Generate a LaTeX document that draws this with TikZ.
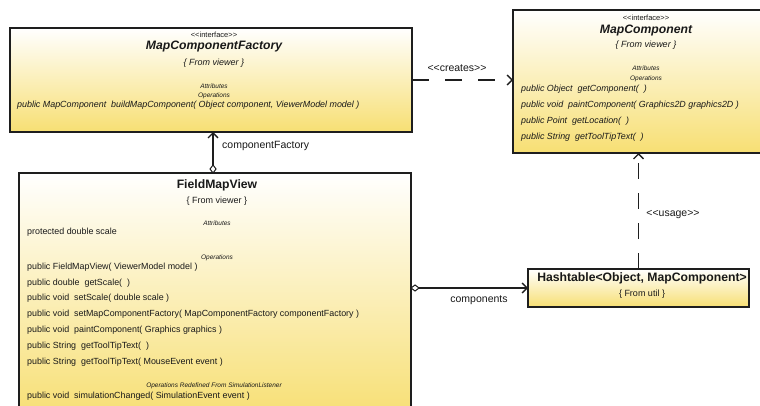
\documentclass[tikz,border=0pt]{standalone}
\usepackage{fontspec}
\setmainfont{Liberation Sans}
\usetikzlibrary{arrows.meta}
\definecolor{umlyellow}{RGB}{247,223,115}
\definecolor{umlline}{RGB}{30,30,30}
\definecolor{txt}{RGB}{25,25,25}
\newcommand{\ltlt}{{<}{<}}
\newcommand{\gtgt}{{>}{>}}
\tikzset{
  umlbox/.style={draw=umlline, line width=1.3pt, top color=white, bottom color=umlyellow,
    anchor=north west, inner sep=0pt, outer sep=0pt},
  mtext/.style={anchor=west, inner sep=0pt, text=txt, font=\fontsize{8.9}{10}\selectfont},
  itext/.style={anchor=west, inner sep=0pt, text=txt, font=\fontsize{8.9}{10}\selectfont\itshape},
  tiny/.style={inner sep=0pt, text=txt, font=\fontsize{6.5}{7}\selectfont\itshape},
  stereo/.style={inner sep=0pt, text=txt, font=\fontsize{7.5}{8}\selectfont},
  fromtxt/.style={inner sep=0pt, text=txt, font=\fontsize{9}{10}\selectfont\itshape},
  fromup/.style={inner sep=0pt, text=txt, font=\fontsize{9}{10}\selectfont},
  ititle/.style={inner sep=0pt, text=txt, font=\fontsize{12.2}{14}\selectfont\bfseries\itshape},
  btitle/.style={inner sep=0pt, text=txt, font=\fontsize{12.2}{14}\selectfont\bfseries},
  conn/.style={draw=umlline, line width=1.3pt},
  dep/.style={conn, dash pattern=on 17pt off 16pt},
  lbl/.style={inner sep=0pt, text=txt, font=\fontsize{10.5}{12}\selectfont},
  openarrow/.style={-{Straight Barb[length=5pt, width=10pt, line width=1.3pt]}},
}
\begin{document}
\begin{tikzpicture}[x=1pt, y=-1pt]
  \clip (0,0) rectangle (760,406);
  \fill[white] (0,0) rectangle (760,406);

  % MapComponentFactory
  \node[umlbox, minimum width=402pt, minimum height=104pt] (mcf) at (10,28) {};
  \node[stereo] (mcfs) at (214,35) {\ltlt interface\gtgt};
  \node[ititle] (mcft) at (214,47) {MapComponentFactory};
  \node[fromtxt] (mcff) at (214,63) {\{ From viewer \}};
  \node[tiny] (mcfa) at (214,86) {Attributes};
  \node[tiny] (mcfo) at (214,96) {Operations};
  \node[itext] (mcfm1) at (17,105) {public MapComponent\ \ buildMapComponent( Object component, ViewerModel model )};

  % MapComponent
  \node[umlbox, minimum width=266pt, minimum height=143pt] (mc) at (513,10) {};
  \node[stereo] (mcs) at (646,18) {\ltlt interface\gtgt};
  \node[ititle] (mct) at (646,31) {MapComponent};
  \node[fromtxt] (mcf2) at (646,45) {\{ From viewer \}};
  \node[tiny] (mca) at (646,68) {Attributes};
  \node[tiny] (mco) at (646,79) {Operations};
  \node[itext] (mcm1) at (521,89) {public Object\ \ getComponent(\ \ )};
  \node[itext] (mcm2) at (521,105) {public void\ \ paintComponent( Graphics2D graphics2D )};
  \node[itext] (mcm3) at (521,121) {public Point\ \ getLocation(\ \ )};
  \node[itext] (mcm4) at (521,137) {public String\ \ getToolTipText(\ \ )};

  % FieldMapView
  \node[umlbox, minimum width=392pt, minimum height=245pt] (fmv) at (19,173) {};
  \node[btitle] (fmvt) at (217,185) {FieldMapView};
  \node[fromup] (fmvf) at (217,201) {\{ From viewer \}};
  \node[tiny] (fmva) at (217,223) {Attributes};
  \node[mtext] (fmva1) at (27,232) {protected double scale};
  \node[tiny] (fmvo) at (217,258) {Operations};
  \node[mtext] (fmvm1) at (27,267) {public FieldMapView( ViewerModel model )};
  \node[mtext] (fmvm2) at (27,283) {public double\ \ getScale(\ \ )};
  \node[mtext] (fmvm3) at (27,298) {public void\ \ setScale( double scale )};
  \node[mtext] (fmvm4) at (27,314) {public void\ \ setMapComponentFactory( MapComponentFactory componentFactory )};
  \node[mtext] (fmvm5) at (27,330) {public void\ \ paintComponent( Graphics graphics )};
  \node[mtext] (fmvm6) at (27,346) {public String\ \ getToolTipText(\ \ )};
  \node[mtext] (fmvm7) at (27,362) {public String\ \ getToolTipText( MouseEvent event )};
  \node[tiny] (fmvr) at (214,386) {Operations Redefined From SimulationListener};
  \node[mtext] (fmvm8) at (27,396) {public void\ \ simulationChanged( SimulationEvent event )};

  % Hashtable
  \node[umlbox, minimum width=221pt, minimum height=38pt] (ht) at (528,269) {};
  \node[btitle] (htt) at (642,278) {Hashtable<Object, MapComponent>};
  \node[fromup] (htf) at (642,294) {\{ From util \}};

  % connectors
  \coordinate (cfx) at (213,0);
  \draw[dep, openarrow] (mcf.east) -- (mcf.east -| mc.west);
  \node[lbl] (lcreates) at (457,68) {\ltlt creates\gtgt};

  \draw[conn, openarrow] (fmv.north -| cfx) -- (mcf.south -| cfx);
  \draw[umlline, line width=1pt, fill=white] (fmv.north -| cfx) -- ++(3,-4) -- ++(-3,-4) -- ++(-3,4) -- cycle;
  \node[lbl, anchor=west] (lcf) at (222,146) {componentFactory};

  \draw[conn, openarrow] (fmv.east |- ht.west) -- (ht.west);
  \draw[umlline, line width=1pt, fill=white] (fmv.east |- ht.west) -- ++(4,-3) -- ++(4,3) -- ++(-4,3) -- cycle;
  \node[lbl] (lcomp) at (479,300) {components};

  \draw[dep, openarrow, dash pattern=on 16pt off 14pt] (ht.north) -- (ht.north |- mc.south);
  \node[lbl] (lusage) at (673,215) {\ltlt usage\gtgt};
\end{tikzpicture}
\end{document}
